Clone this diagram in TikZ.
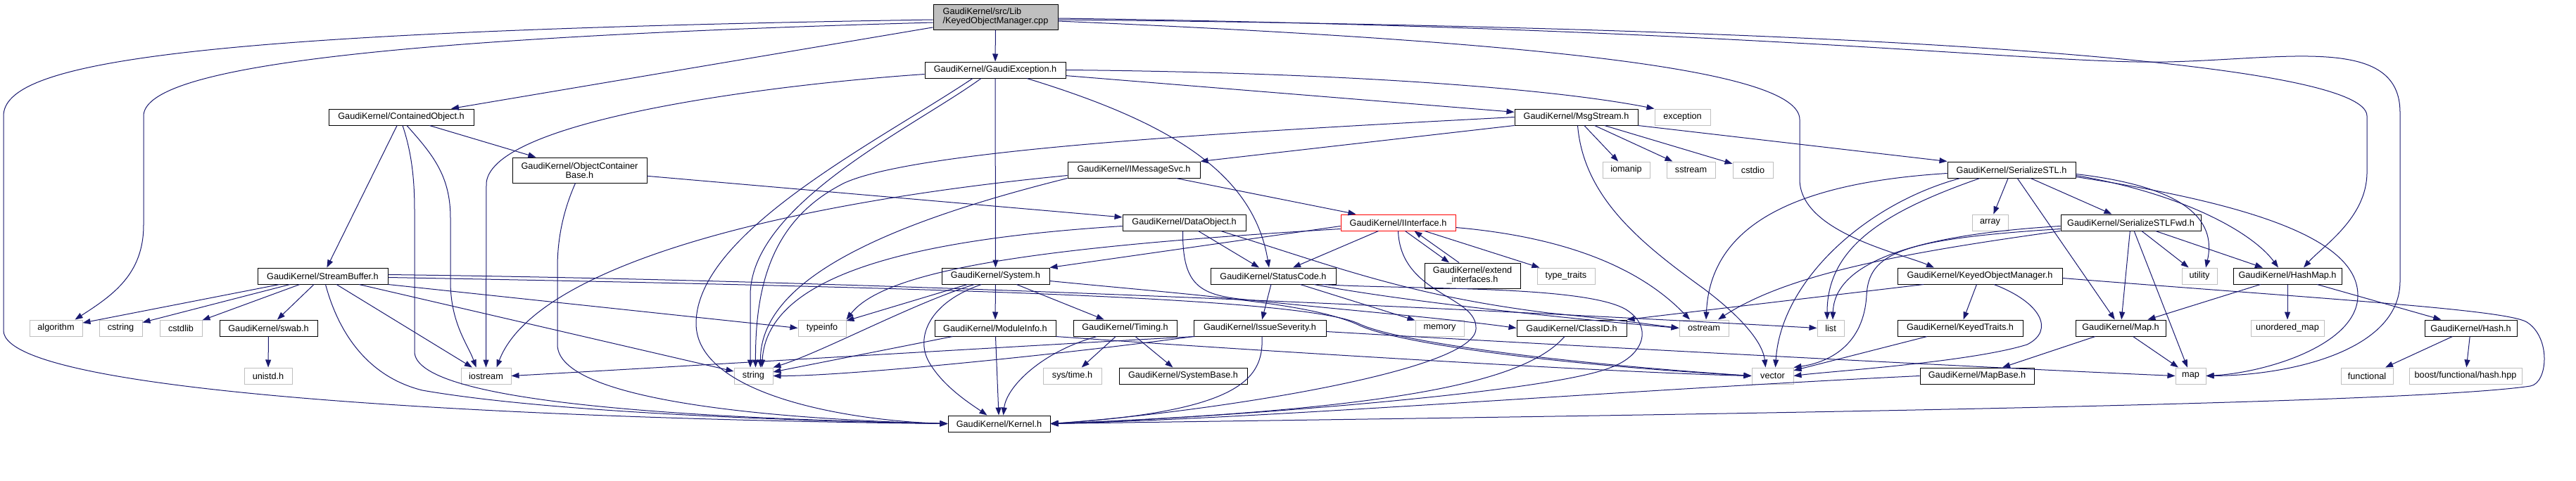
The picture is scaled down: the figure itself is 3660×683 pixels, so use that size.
\documentclass[tikz,border=0pt]{standalone}
\usepackage{fontspec}
\setmainfont{Liberation Sans}
\usetikzlibrary{arrows.meta}
\definecolor{edgec}{HTML}{191970}
\definecolor{xgray}{HTML}{BFBFBF}
\begin{document}
\begin{tikzpicture}[x=1pt,y=-1pt,
  box/.style={draw=black,line width=1pt,rectangle,inner sep=0pt,minimum height=23pt,font=\fontsize{12.7}{13}\selectfont,text=black},
  xbox/.style={box,draw=xgray},
  rbox/.style={box,draw=red},
  e/.style={draw=edgec,line width=1pt,-{Triangle[length=11pt,width=8pt]}}]
\useasboundingbox[fill=white] (0,0) rectangle (3660,683);
% row 0
\node[box,minimum width=177pt,minimum height=36pt,fill=xgray,align=left] (cpp) at (1414.5,24) {GaudiKernel/src/Lib\\/KeyedObjectManager.cpp};
% row 1
\node[box,minimum width=200pt] (ge) at (1414,99.5) {GaudiKernel/GaudiException.h};
% row 2
\node[box,minimum width=206pt] (cobj) at (570,166.5) {GaudiKernel/ContainedObject.h};
\node[box,minimum width=175pt] (msg) at (2239.5,166.5) {GaudiKernel/MsgStream.h};
\node[xbox,minimum width=79pt] (exc) at (2390.5,166.5) {exception};
% row 3
\node[box,minimum width=191pt,minimum height=36pt,align=center] (ocb) at (823.5,242) {GaudiKernel/ObjectContainer\\Base.h};
\node[box,minimum width=188pt] (ims) at (1611,241.5) {GaudiKernel/IMessageSvc.h};
\node[xbox,minimum width=67pt] (iomanip) at (2310.5,241.5) {iomanip};
\node[xbox,minimum width=69pt] (sstream) at (2402.5,241.5) {sstream};
\node[xbox,minimum width=57pt] (cstdio) at (2490.5,241.5) {cstdio};
\node[box,minimum width=182pt] (sstl) at (2858,241.5) {GaudiKernel/SerializeSTL.h};
% row 4
\node[box,minimum width=175pt] (dobj) at (1682.5,316.5) {GaudiKernel/DataObject.h};
\node[rbox,minimum width=163pt] (iint) at (1986.5,316.5) {GaudiKernel/IInterface.h};
\node[xbox,minimum width=51pt] (array) at (2827.5,316.5) {array};
\node[box,minimum width=199pt] (sfwd) at (3027.5,316.5) {GaudiKernel/SerializeSTLFwd.h};
% row 5
\node[box,minimum width=185pt] (sb) at (458.5,392.5) {GaudiKernel/StreamBuffer.h};
\node[box,minimum width=153pt] (sys) at (1414.5,392.5) {GaudiKernel/System.h};
\node[box,minimum width=178pt] (sc) at (1809,392.5) {GaudiKernel/StatusCode.h};
\node[box,minimum width=136pt,minimum height=36pt,align=center] (extif) at (2092,392) {GaudiKernel/extend\\\_interfaces.h};
\node[xbox,minimum width=82pt] (tt) at (2225,392.5) {type\_traits};
\node[box,minimum width=234pt] (komh) at (2813,392.5) {GaudiKernel/KeyedObjectManager.h};
\node[xbox,minimum width=50pt] (util) at (3125,392.5) {utility};
\node[box,minimum width=154pt] (hmap) at (3250,392.5) {GaudiKernel/HashMap.h};
% row 6
\node[xbox,minimum width=75pt] (alg) at (79.5,466.5) {algorithm};
\node[xbox,minimum width=61pt] (cstr) at (171.5,466.5) {cstring};
\node[xbox,minimum width=60pt] (cstdl) at (257,466.5) {cstdlib};
\node[box,minimum width=139pt] (swab) at (381.5,466.5) {GaudiKernel/swab.h};
\node[xbox,minimum width=68pt] (tinfo) at (1168,466.5) {typeinfo};
\node[box,minimum width=172pt] (modi) at (1414,466.5) {GaudiKernel/ModuleInfo.h};
\node[box,minimum width=147pt] (tim) at (1598.5,466.5) {GaudiKernel/Timing.h};
\node[box,minimum width=188pt] (isev) at (1790,466.5) {GaudiKernel/IssueSeverity.h};
\node[xbox,minimum width=69pt] (mem) at (2045.5,466.5) {memory};
\node[box,minimum width=156pt] (clsid) at (2233,466.5) {GaudiKernel/ClassID.h};
\node[xbox,minimum width=70pt] (ostr) at (2421,466.5) {ostream};
\node[xbox,minimum width=38pt] (lst) at (2601,466.5) {list};
\node[box,minimum width=178pt] (ktr) at (2785,466.5) {GaudiKernel/KeyedTraits.h};
\node[box,minimum width=128pt] (maph) at (3013,466.5) {GaudiKernel/Map.h};
\node[xbox,minimum width=104pt] (umap) at (3250,466.5) {unordered\_map};
\node[box,minimum width=131pt] (hash) at (3510.5,466.5) {GaudiKernel/Hash.h};
% row 7
\node[xbox,minimum width=68pt] (unistd) at (381,534.5) {unistd.h};
\node[xbox,minimum width=71pt] (iostr) at (690.5,534.5) {iostream};
\node[xbox,minimum width=55pt] (str) at (1070.5,534.5) {string};
\node[xbox,minimum width=83pt] (stime) at (1523.5,534.5) {sys/time.h};
\node[box,minimum width=182pt] (sbase) at (1681,534.5) {GaudiKernel/SystemBase.h};
\node[xbox,minimum width=59pt] (vec) at (2518.5,534.5) {vector};
\node[box,minimum width=162pt] (mbase) at (2809,534.5) {GaudiKernel/MapBase.h};
\node[xbox,minimum width=43pt] (mp) at (3112.5,534.5) {map};
\node[xbox,minimum width=74pt] (func) at (3363,534.5) {functional};
\node[xbox,minimum width=160pt] (boost) at (3503,534.5) {boost/functional/hash.hpp};
% row 8
\node[box,minimum width=145pt] (kern) at (1419.5,602.5) {GaudiKernel/Kernel.h};

% ---- edges from cpp
\draw[e] (cpp) -- (ge);
\draw[e] ([yshift=-4pt]cpp.west) .. controls (250,45) and (5,90) .. (5,165) -- (5,470) .. controls (5,570) and (900,598) .. (kern.west);
\draw[e] ([yshift=-8pt]cpp.west) .. controls (500,55) and (204,100) .. (204,165) -- (204,320) .. controls (204,390) and (160,420) .. ([xshift=27pt]alg.north);
\draw[e] (cpp) -- (cobj);
\draw[e] ([yshift=-6pt]cpp.east) .. controls (2200,60) and (2557,100) .. (2557,170) -- (2557,255) .. controls (2557,330) and (2700,360) .. ([xshift=-65pt]komh.north);
\draw[e] ([yshift=-4pt]cpp.east) .. controls (2700,40) and (3363,90) .. (3363,165) -- (3363,245) .. controls (3363,310) and (3300,350) .. ([xshift=23pt]hmap.north);
\draw[e] ([yshift=-2pt]cpp.east) .. controls (2500,40) and (2900,92) .. (3080,88) .. controls (3250,84) and (3410,50) .. (3410,160) -- (3410,400) .. controls (3410,500) and (3250,534) .. (mp.east);
% ---- GaudiException
\draw[e] (ge.east) .. controls (1900,103) and (2200,125) .. (exc.north west);
\draw[e] (ge) -- (msg);
\draw[e] (ge) -- (sys);
\draw[e] ([xshift=45pt]ge.south) .. controls (1650,170) and (1780,240) .. ([xshift=-6pt]sc.north);
\draw[e] ([yshift=-6pt]ge.west) .. controls (1100,120) and (700,170) .. (691,260) -- (iostr.north);
\draw[e] ([xshift=-20pt]ge.south) .. controls (1300,180) and (1066,290) .. (1066,420) -- ([xshift=-4.5pt]str.north);
\draw[e] ([xshift=-32pt]ge.south) .. controls (1250,200) and (989,330) .. (989,460) .. controls (989,560) and (1200,598) .. (kern.west);
% ---- ContainedObject
\draw[e] (cobj) -- (sb);
\draw[e] ([xshift=8pt]cobj.south) .. controls (615,220) and (640,250) .. (640,310) -- (640,400) .. controls (640,460) and (665,490) .. ([xshift=-14pt]iostr.north);
\draw[e] ([xshift=2pt]cobj.south) .. controls (586,220) and (589,260) .. (589,300) -- (589,500) .. controls (589,570) and (950,594) .. (kern.west);
\draw[e] (cobj) -- (ocb);
% ---- ObjectContainerBase
\draw[e] ([xshift=-6pt]ocb.south) .. controls (800,300) and (792,340) .. (792,380) -- (792,490) .. controls (792,570) and (1100,596) .. (kern.west);
\draw[e] (ocb) -- (dobj);
% ---- IMessageSvc
\draw[e] (ims) -- (iint);
\draw[e] ([yshift=-8pt]ims.west) .. controls (1100,290) and (760,380) .. ([xshift=15pt]iostr.north);
\draw[e] (ims.south west) .. controls (1250,320) and (1080,400) .. ([xshift=10pt]str.north);
% ---- MsgStream
\draw[e] (msg.south west) -- (ims.north east);
\draw[e] (msg.west) .. controls (1700,190) and (1300,215) .. (1200,260) .. controls (1100,310) and (1073,400) .. ([xshift=3pt]str.north);
\draw[e] (msg) -- (iomanip);
\draw[e] (msg) -- (sstream);
\draw[e] (msg) -- (cstdio);
\draw[e] (msg.south east) -- (sstl.north west);
\draw[e] ([xshift=2pt]msg.south) .. controls (2250,280) and (2330,345) .. (2420,410) .. controls (2480,455) and (2505,490) .. ([xshift=-10pt]vec.north);
% ---- SerializeSTL
\draw[e] (sstl) -- (array);
\draw[e] (sstl) -- (sfwd);
\draw[e] (sstl) -- (maph);
\draw[e] ([yshift=-5pt]sstl.west) .. controls (2550,260) and (2430,320) .. ([xshift=3pt]ostr.north);
\draw[e] ([xshift=-73pt]sstl.south) .. controls (2650,290) and (2530,400) .. ([xshift=4pt]vec.north);
\draw[e] ([xshift=-45pt]sstl.south) .. controls (2680,300) and (2596,350) .. ([xshift=-5pt]lst.north);
\draw[e] ([yshift=-6pt]sstl.east) .. controls (3100,265) and (3150,310) .. ([xshift=9pt]util.north);
\draw[e] ([yshift=-8pt]sstl.east) .. controls (3100,275) and (3200,330) .. ([xshift=-13pt]hmap.north);
\draw[e] ([yshift=-10pt]sstl.east) .. controls (3200,290) and (3350,340) .. (3350,420) .. controls (3350,490) and (3220,530) .. (mp.east);
% ---- SerializeSTLFwd
\draw[e] (sfwd) -- (maph);
\draw[e] (sfwd) -- (mp);
\draw[e] (sfwd) -- (util);
\draw[e] (sfwd) -- (hmap);
\draw[e] ([yshift=-5pt]sfwd.west) .. controls (2700,335) and (2606,380) .. ([xshift=3pt]lst.north);
\draw[e] ([yshift=-9pt]sfwd.west) .. controls (2700,340) and (2655,360) .. (2652,420) .. controls (2648,490) and (2600,515) .. (vec.north east);
\draw[e] (sfwd.south west) .. controls (2700,360) and (2540,390) .. ([xshift=20pt]ostr.north);
% ---- KeyedObjectManager.h
\draw[e] ([xshift=-80pt]komh.south) -- (clsid.north east);
\draw[e] (komh) -- (ktr);
\draw[e] ([xshift=20pt]komh.south) .. controls (2900,430) and (2920,470) .. (2880,490) .. controls (2800,515) and (2600,528) .. (vec.east);
\draw[e] ([yshift=-3pt]komh.east) .. controls (3300,425) and (3560,440) .. (3590,458) .. controls (3625,480) and (3620,545) .. (3595,549) .. controls (3400,578) and (2200,592) .. (kern.east);
% ---- others on the right
\draw[e] (ktr) -- (vec);
\draw[e] (maph) -- (mp);
\draw[e] (maph) -- (mbase);
\draw[e] (mbase.west) .. controls (2300,555) and (1800,595) .. (kern.east);
\draw[e] (hmap) -- (maph);
\draw[e] (hmap) -- (umap);
\draw[e] (hmap) -- (hash);
\draw[e] (hash) -- (func);
\draw[e] (hash) -- (boost);
% ---- IInterface
\draw[e] ([yshift=-5pt]iint.west) -- (sys.north east);
\draw[e] ([yshift=-9pt]iint.west) .. controls (1500,350) and (1260,380) .. (tinfo.north east);
\draw[e] (iint) -- (sc);
\draw[e] ([xshift=10pt]iint.south) -- ([xshift=-33pt]extif.north);
\draw[e] ([xshift=-19pt]extif.north) -- ([xshift=23pt]iint.south);
\draw[e] (iint) -- (tt);
\draw[e] ([yshift=-7pt]iint.east) .. controls (2200,335) and (2320,370) .. ([xshift=-20pt]ostr.north);
\draw[e] (iint.south) .. controls (1990,420) and (2100,420) .. (2097,468) .. controls (2094,530) and (1700,588) .. (kern.east);
% ---- DataObject
\draw[e] (dobj) -- (sc);
\draw[e] ([yshift=-5pt]dobj.west) .. controls (1300,340) and (1090,390) .. ([xshift=12pt]str.north);
\draw[e] ([xshift=-2pt]dobj.south) .. controls (1680,400) and (1700,418) .. (1760,425) .. controls (1900,440) and (2050,452) .. (clsid.west);
\draw[e] ([xshift=52pt]dobj.south) .. controls (1900,380) and (2000,420) .. (2200,445) .. controls (2300,455) and (2350,462) .. (ostr.west);
% ---- StatusCode
\draw[e] (sc) -- (isev);
\draw[e] (sc) -- (mem);
\draw[e] ([xshift=58pt]sc.south) .. controls (2000,430) and (2250,455) .. (ostr.west);
\draw[e] ([xshift=70pt]sc.south) .. controls (2000,412) and (2250,405) .. (2310,440) .. controls (2350,465) and (2335,505) .. (2290,522) .. controls (2200,560) and (1700,596) .. (kern.east);
% ---- IssueSeverity
\draw[e] ([xshift=3pt]isev.south) .. controls (1796,540) and (1760,585) .. (kern.east);
\draw[e] ([xshift=2pt]isev.south west) .. controls (1400,495) and (900,525) .. (iostr.east);
\draw[e] (isev.south west) .. controls (1500,505) and (1200,535) .. (str.east);
\draw[e] ([yshift=-5pt]isev.east) .. controls (2200,490) and (2800,522) .. (mp.west);
% ---- ClassID
\draw[e] ([xshift=-10pt]clsid.south) .. controls (2170,540) and (2000,582) .. (kern.east);
% ---- System
\draw[e] (sys) -- (modi);
\draw[e] (sys) -- (tim);
\draw[e] (sys) -- (tinfo);
\draw[e] ([xshift=-30pt]sys.south) .. controls (1300,430) and (1170,500) .. (str.north east);
\draw[e] ([xshift=-20pt]sys.south) .. controls (1320,430) and (1300,480) .. (1320,515) .. controls (1340,550) and (1380,575) .. ([xshift=-17pt]kern.north);
\draw[e] ([yshift=-7pt]sys.east) .. controls (1700,420) and (1860,430) .. (1930,462) .. controls (1980,487) and (2200,518) .. (vec.west);
% ---- ModuleInfo, Timing
\draw[e] (modi) -- (kern);
\draw[e] (modi) -- (str);
\draw[e] (modi.south east) .. controls (1800,500) and (2300,530) .. (vec.west);
\draw[e] (tim) -- (stime);
\draw[e] (tim) -- (sbase);
\draw[e] ([xshift=-40pt]tim.south) .. controls (1480,500) and (1430,550) .. ([xshift=6pt]kern.north);
% ---- StreamBuffer
\draw[e] (sb) -- (alg);
\draw[e] (sb) -- (cstr);
\draw[e] (sb) -- (cstdl);
\draw[e] (sb) -- (swab);
\draw[e] (swab) -- (unistd);
\draw[e] (sb) -- (iostr);
\draw[e] (sb) -- (str);
\draw[e] (sb.south east) -- (tinfo.west);
\draw[e] ([xshift=4pt]sb.south) .. controls (480,470) and (520,535) .. (600,555) .. controls (800,590) and (1200,600) .. (kern.west);
\draw[e] ([yshift=2pt]sb.east) .. controls (1300,400) and (2100,440) .. (lst.west);
\draw[e] ([yshift=-2pt]sb.east) .. controls (1400,410) and (1850,425) .. (1930,460) .. controls (1980,485) and (2200,515) .. (vec.west);
\end{tikzpicture}
\end{document}
